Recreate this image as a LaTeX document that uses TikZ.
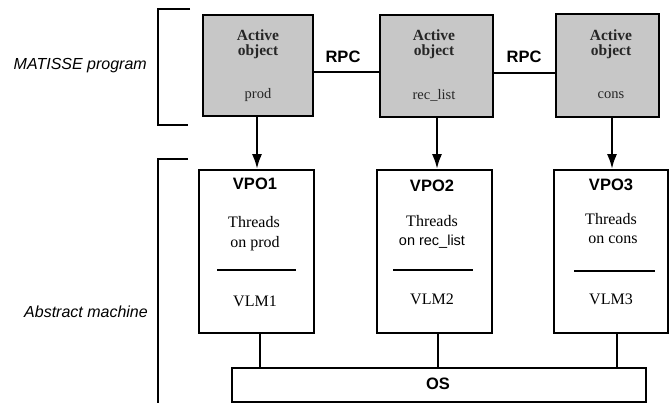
\documentclass[tikz,border=0pt]{standalone}
\usepackage{fontspec}
\setmainfont{Liberation Serif}
\setsansfont{Liberation Sans}
\usetikzlibrary{arrows.meta}
\begin{document}
\begin{tikzpicture}[x=1pt,y=-1pt,
  aobj/.style={draw=black,line width=1.6pt,fill=black!22,inner sep=0pt},
  vbox/.style={draw=black,line width=1.6pt,fill=white,inner sep=0pt},
  sertxt/.style={font=\fontsize{16}{18}\selectfont,inner sep=0pt},
  boldser/.style={font=\fontsize{15.5}{17}\selectfont\bfseries,inner sep=0pt,text=black!85},
  bsans/.style={font=\fontsize{16.5}{18}\selectfont\sffamily\bfseries,inner sep=0pt},
  isans/.style={font=\fontsize{16}{18}\selectfont\sffamily\itshape,inner sep=0pt},
  thick2/.style={line width=2.6pt},
  arr/.style={line width=2.6pt,-{Latex[length=15pt,width=10pt]}}]
\useasboundingbox (0,0) rectangle (669,403);
% brackets
\draw[thick2] (190,9) -- (158,9) -- (158,125) -- (188,125);
\draw[thick2] (188,159) -- (158,159) -- (158,405);
\node[isans,anchor=east] (lmat) at (147,66) {MATISSE program};
\node[isans,anchor=east] (labs) at (148,312) {Abstract machine};
% active objects
\node[aobj,minimum width=110pt,minimum height=101pt] (b1) at (258,65.5) {};
\node[aobj,minimum width=113pt,minimum height=102pt] (b2) at (436.5,66) {};
\node[aobj,minimum width=103pt,minimum height=103pt] (b3) at (607.5,65.5) {};
\foreach \i/\x/\n in {1/258/prod,2/434/rec\_list,3/611/cons}{
  \node[boldser] (act\i) at (\x,35) {Active};
  \node[boldser] (obj\i) at (\x,52) {object};
  \node[sertxt,font=\fontsize{14.5}{16}\selectfont,text=black!85] (nm\i) at (\x,95) {\n};
}
% RPC
\draw[thick2] (b1.east |- 0,72) -- (b2.west |- 0,72);
\draw[thick2] (b2.east |- 0,73) -- (b3.west |- 0,73);
\node[bsans] (rpc1) at (343,57) {RPC};
\node[bsans] (rpc2) at (524,57) {RPC};
% VPO boxes
\node[vbox,minimum width=115pt,minimum height=163pt] (v1) at (256.5,251.5) {};
\node[vbox,minimum width=115pt,minimum height=163pt] (v2) at (434.5,251.5) {};
\node[vbox,minimum width=114pt,minimum height=163pt] (v3) at (611,251.5) {};
\node[bsans] (vp1) at (255,184) {VPO1};
\node[bsans] (vp2) at (432,186) {VPO2};
\node[bsans] (vp3) at (611,185) {VPO3};
\node[sertxt] (th1) at (254,222) {Threads};
\node[sertxt] (th2) at (432,221) {Threads};
\node[sertxt] (th3) at (611,219) {Threads};
\node[sertxt] (on1) at (255,244) {on prod};
\node[sertxt,font=\fontsize{14.5}{16}\selectfont\sffamily] (on2) at (432,242) {on rec\_list};
\node[sertxt] (on3) at (613,240) {on cons};
\draw[line width=1.6pt] (217,270) -- (296,270);
\draw[line width=1.6pt] (393,270) -- (473,270);
\draw[line width=1.6pt] (574,271) -- (655,271);
\node[sertxt] (vl1) at (255,301) {VLM1};
\node[sertxt] (vl2) at (432,299) {VLM2};
\node[sertxt] (vl3) at (611,299) {VLM3};
% arrows
\draw[arr] ([xshift=-1pt]b1.south) -- ([xshift=-1pt]b1.south |- v1.north);
\draw[arr] ([xshift=0.5pt]b2.south) -- ([xshift=0.5pt]b2.south |- v2.north);
\draw[arr] ([xshift=4.5pt]b3.south) -- ([xshift=4.5pt]b3.south |- v3.north);
% OS
\node[vbox,minimum width=414pt,minimum height=34pt] (os) at (439,385) {};
\node[bsans] (oslab) at (438,384) {OS};
\draw[line width=1.6pt] ([xshift=3.5pt]v1.south) -- ([xshift=3.5pt]v1.south |- os.north);
\draw[line width=1.6pt] ([xshift=3.5pt]v2.south) -- ([xshift=3.5pt]v2.south |- os.north);
\draw[line width=1.6pt] ([xshift=6pt]v3.south) -- ([xshift=6pt]v3.south |- os.north);
\end{tikzpicture}
\end{document}
